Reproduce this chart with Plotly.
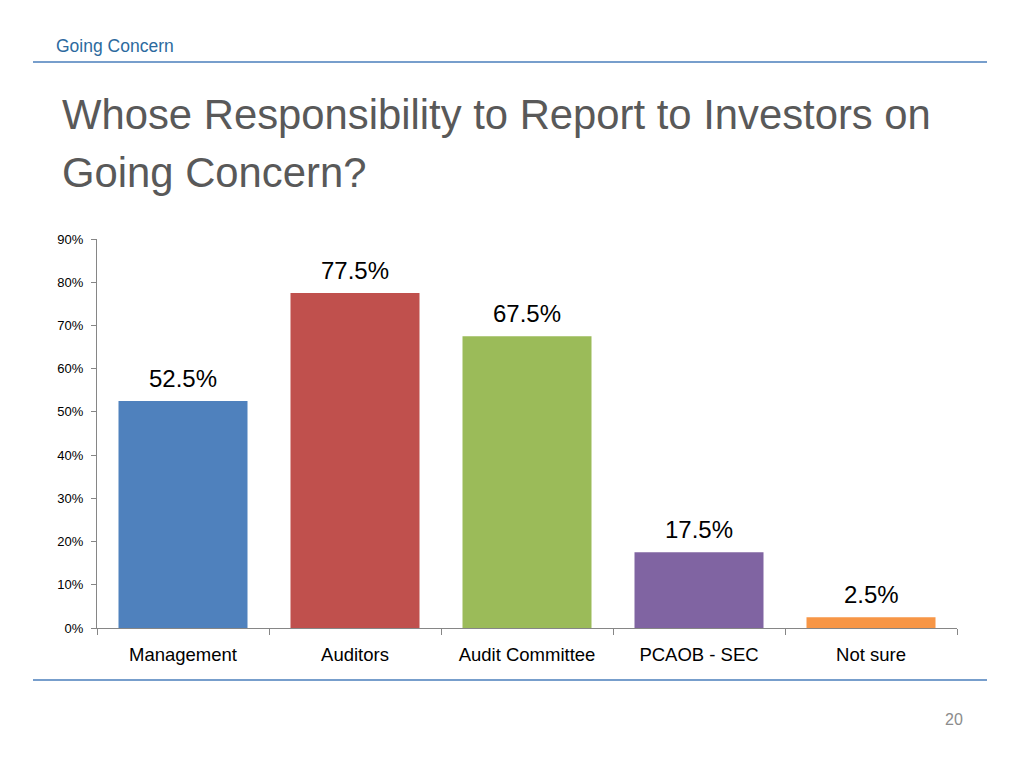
import plotly.graph_objects as go

categories = ["Management", "Auditors", "Audit Committee", "PCAOB - SEC", "Not sure"]
values = [0.525, 0.775, 0.675, 0.175, 0.025]
labels = ["52.5%", "77.5%", "67.5%", "17.5%", "2.5%"]
colors = ["#4F81BD", "#C0504D", "#9BBB59", "#8064A2", "#F79646"]
y_ticks = [0, 0.1, 0.2, 0.3, 0.4, 0.5, 0.6, 0.7, 0.8, 0.9]
y_tick_text = ["0%", "10%", "20%", "30%", "40%", "50%", "60%", "70%", "80%", "90%"]

W, H = 1024, 768
L, R, T, B = 97, 957, 239, 628

def px(x):
    return (x - L) / (R - L)

def py(y):
    return (B - y) / (B - T)

SANS = "Liberation Sans, Arial, sans-serif"

fig = go.Figure(go.Bar(
    x=categories, y=values, marker=dict(color=colors, line=dict(width=0)),
    width=0.75, hoverinfo="skip",
))

for c, v, t in zip(categories, values, labels):
    fig.add_annotation(x=c, y=v, xref="x", yref="y", text=t, showarrow=False,
                       yanchor="bottom", yshift=7,
                       font=dict(family=SANS, size=24, color="#000000"))

axis_grey = "#868686"
fig.update_layout(
    width=W, height=H,
    margin=dict(l=L, r=W - R, t=T, b=H - B),
    paper_bgcolor="white", plot_bgcolor="white",
    showlegend=False,
    xaxis=dict(
        showline=True, linecolor=axis_grey, linewidth=1,
        ticks="outside", tickson="boundaries", ticklen=6, tickcolor=axis_grey,
        tickfont=dict(family=SANS, size=18.5, color="#000000"),
        ticklabelstandoff=10,
        showgrid=False, zeroline=False,
    ),
    yaxis=dict(
        range=[0, 0.9], tickvals=y_ticks, ticktext=y_tick_text,
        showline=True, linecolor=axis_grey, linewidth=1,
        ticks="outside", ticklen=5, tickcolor=axis_grey,
        tickfont=dict(family=SANS, size=13, color="#000000"),
        ticklabelstandoff=5,
        showgrid=False, zeroline=False,
    ),
)

line_color = "#4A7EBB"
fig.add_shape(type="line", xref="paper", yref="paper",
              x0=px(33), x1=px(987), y0=py(62), y1=py(62),
              line=dict(color=line_color, width=1.5))
fig.add_shape(type="line", xref="paper", yref="paper",
              x0=px(33), x1=px(987), y0=py(680), y1=py(680),
              line=dict(color=line_color, width=1.5))

fig.add_annotation(text="Going Concern", xref="paper", yref="paper",
                   x=px(54), y=py(46), xanchor="left", yanchor="middle",
                   showarrow=False, font=dict(family=SANS, size=17.5, color="#2C6A9E"))
fig.add_annotation(text="Whose Responsibility to Report to Investors on", xref="paper", yref="paper",
                   x=px(60), y=py(114), xanchor="left", yanchor="middle",
                   showarrow=False, font=dict(family=SANS, size=41.8, color="#595959"))
fig.add_annotation(text="Going Concern?", xref="paper", yref="paper",
                   x=px(60), y=py(172), xanchor="left", yanchor="middle",
                   showarrow=False, font=dict(family=SANS, size=41.8, color="#595959"))
fig.add_annotation(text="20", xref="paper", yref="paper",
                   x=px(965), y=py(719), xanchor="right", yanchor="middle",
                   showarrow=False, font=dict(family=SANS, size=16, color="#8C8C8C"))

fig.write_html("out.html", config={"displayModeBar": False},
               post_script="document.body.style.margin='0';")
